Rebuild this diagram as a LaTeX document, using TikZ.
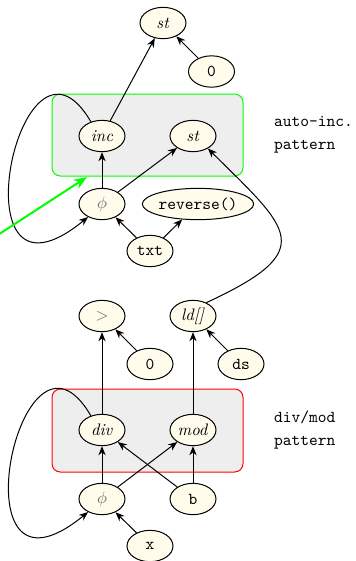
\documentclass[tikz,border=0pt]{standalone}
\usepackage{amssymb}
\usepackage{amsmath}
\usepackage{tikz}
\usetikzlibrary{arrows.meta,shapes.geometric}
\definecolor{nodebg}{RGB}{255,252,236}
\definecolor{phigray}{RGB}{105,105,105}

\begin{document}
\begin{tikzpicture}[x=0.6pt,y=-0.6pt,line width=0.6pt,
		op/.style={draw,ellipse,fill=nodebg,minimum width=27.6pt,minimum height=18.8pt,inner sep=0pt},
		lit/.style={op,font=\ttfamily},
		grp/.style={rounded corners=5pt,fill=gray!13},
		>={Stealth[length=5.5pt,width=4.4pt,inset=1.8pt]}]
		\useasboundingbox (0,0) rectangle (355,561);
		
		\draw[grp,draw=green] (52,94) rectangle (243,176);
		\draw[grp,draw=red] (52,389) rectangle (243,472);
		\node[align=left,anchor=west,font=\ttfamily] (autolbl) at (268,134.5) {auto-inc.\\[1.8pt]pattern};
		\node[align=left,anchor=west,font=\ttfamily] (divlbl) at (268,430) {div/mod\\[1.8pt]pattern};
		
		\node[op] (st1) at (163,23) {\textit{st}};
		\node[lit] (zero1) at (211.5,71.5) {0};
		\node[op] (inc) at (102,136) {\textit{inc}};
		\node[op] (st2) at (193,136) {\textit{st}};
		\node[op] (phi1) at (102,204) {\color{phigray}$\phi$};
		\node[lit,minimum width=64.8pt] (rev) at (198,204) {reverse()};
		\node[lit] (txt) at (150,251) {txt};
		
		\node[op] (cmp) at (102,316) {\color{phigray}$>$};
		\node[op] (ld) at (193,316) {\textit{ld[]}};
		\node[lit] (zero2) at (150,364) {0};
		\node[lit] (ds) at (241,364) {ds};
		\node[op] (div) at (102,430) {\textit{div}};
		\node[op] (mod) at (193,430) {\textit{mod}};
		\node[op] (phi2) at (102,499) {\color{phigray}$\phi$};
		\node[lit] (bv) at (193,499) {b};
		\node[lit] (xv) at (150,546) {x};
		
		\foreach \a/\b in {inc/st1, zero1/st1, phi1/inc, phi1/st2, txt/phi1, txt/rev,
			div/cmp, zero2/cmp, mod/ld, ds/ld, phi2/div, phi2/mod, bv/div, bv/mod, xv/phi2}
			\draw[->] (\a) -- (\b);
		
		\draw[->] (inc.128) .. controls +(-71,-122) and +(-137,112) .. (phi1.223);
		\draw[->] (div.128) .. controls +(-71,-122) and +(-137,112) .. (phi2.223);
		\draw[->] (ld.45) .. controls (320,250) and (290,230) .. (st2.-40);
		
		\coordinate (hint) at (-30,253);
		\coordinate (hintend) at (87,177);
		\draw[-{Stealth[length=8pt,width=6pt,inset=2.5pt]},green,very thick] (hint) -- (hintend);
	\end{tikzpicture}
\end{document}
